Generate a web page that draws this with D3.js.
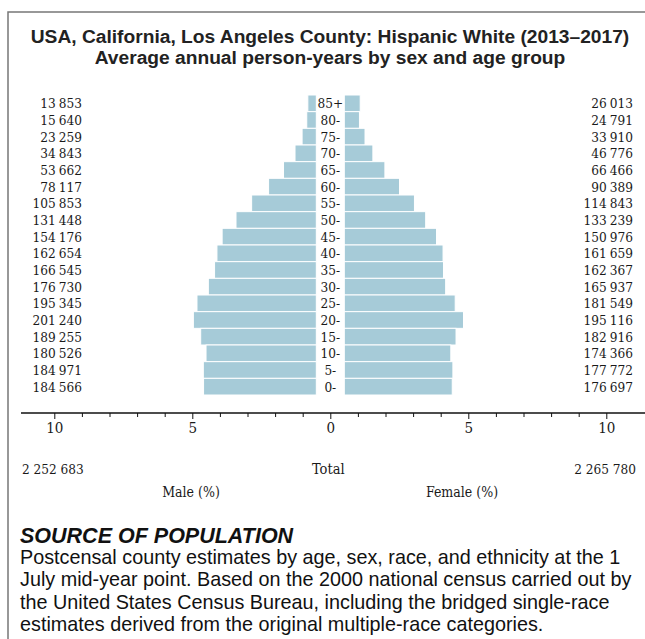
<!DOCTYPE html>
<html><head><meta charset="utf-8">
<script src="https://cdn.jsdelivr.net/npm/d3@7"></script>
<style>
html,body{margin:0;padding:0;background:#fff;}
svg{display:block;}
.serif{font-family:'DejaVu Serif Condensed','DejaVu Serif',serif;font-stretch:condensed;}
</style></head>
<body>
<svg id="chart" width="645" height="639"></svg>
<script>
const ageGroups = ["85+","80-","75-","70-","65-","60-","55-","50-","45-","40-","35-","30-","25-","20-","15-","10-","5-","0-"];
const maleValues = [13853,15640,23259,34843,53662,78117,105853,131448,154176,162654,166545,176730,195345,201240,189255,180526,184971,184566];
const femaleValues = [26013,24791,33910,46776,66466,90389,114843,133239,150976,161659,162367,165937,181549,195116,182916,174366,177772,176697];
const maleTotal = 2252683;
const femaleTotal = 2265780;
const tickValues = d3.range(-10, 11, 1);
const titleLines = ["USA, California, Los Angeles County: Hispanic White (2013\u20132017)","Average annual person-years by sex and age group"];
const sourceTitle = "SOURCE OF POPULATION";
const sourceLines = ["Postcensal county estimates by age, sex, race, and ethnicity at the 1","July mid-year point. Based on the 2000 national census carried out by","the United States Census Bureau, including the bridged single-race","estimates derived from the original multiple-race categories."];

const svg = d3.select("#chart");
const sans = "'Liberation Sans', Arial, sans-serif";
const fmt = v => d3.format(",")(v).replace(/,/g, "\u2005");
const fmtS = v => d3.format(",")(v).replace(/,/g, " ");
const grand = maleTotal + femaleTotal;
const ink = "#1a1a1a";

// frame
svg.append("path").attr("d","M8,639V12H645").attr("fill","none").attr("stroke","#777").attr("stroke-width",1.5);

// title
svg.selectAll("text.title").data(titleLines).join("text")
  .attr("x", 330).attr("y", (d,i)=>43+i*21)
  .attr("text-anchor","middle").attr("font-family",sans).attr("font-weight","bold")
  .attr("font-size",19.2).attr("fill","#222").text(d=>d);

const cx = 330.3, gap = 14;
const x = d3.scaleLinear().domain([-10,10]).range([cx-276, cx+276]);
const w = d3.scaleLinear().domain([0,10]).range([0,276]);
const y = d3.scaleBand().domain(ageGroups).range([95,395]).paddingInner(0);

const pct = v => v / grand * 100;

const g = svg.append("g");
g.selectAll("rect.m").data(maleValues).join("rect")
  .attr("x",(d)=>cx-gap-w(pct(d))).attr("y",(d,i)=>y(ageGroups[i]))
  .attr("width",d=>w(pct(d))).attr("height",y.bandwidth())
  .attr("fill","#a6cbd8").attr("stroke","#fff").attr("stroke-width",1);
g.selectAll("rect.f").data(femaleValues).join("rect")
  .attr("x",cx+gap).attr("y",(d,i)=>y(ageGroups[i]))
  .attr("width",d=>w(pct(d))).attr("height",y.bandwidth())
  .attr("fill","#a6cbd8").attr("stroke","#fff").attr("stroke-width",1);

g.selectAll("text.age").data(ageGroups).join("text").attr("class","serif")
  .attr("x",cx).attr("y",d=>y(d)+y.bandwidth()/2).attr("dy","0.36em")
  .attr("text-anchor","middle").attr("font-size",13.5).attr("fill",ink).text(d=>d);
g.selectAll("text.mv").data(maleValues).join("text").attr("class","serif")
  .attr("x",82).attr("y",(d,i)=>y(ageGroups[i])+y.bandwidth()/2).attr("dy","0.36em")
  .attr("text-anchor","end").attr("font-size",13.5).attr("fill",ink).text(d=>fmt(d));
g.selectAll("text.fv").data(femaleValues).join("text").attr("class","serif")
  .attr("x",633).attr("y",(d,i)=>y(ageGroups[i])+y.bandwidth()/2).attr("dy","0.36em")
  .attr("text-anchor","end").attr("font-size",13.5).attr("fill",ink).text(d=>fmt(d));

// axis
const axis = d3.axisBottom(x).tickValues(tickValues).tickSize(4).tickFormat(d => (d%5===0) ? Math.abs(d) : "");
const ag = svg.append("g").attr("transform","translate(0,413)").call(axis);
ag.select(".domain").remove();
ag.append("line").attr("x1",21).attr("x2",645).attr("stroke","#111").attr("stroke-width",1.5);
ag.selectAll(".tick line").attr("stroke","#111").attr("y2",d=>d%5===0?6:4);
ag.selectAll(".tick text").attr("class","serif").attr("font-family",null).attr("font-size",15).attr("fill",ink).attr("y",9);

// totals
svg.append("text").attr("class","serif").attr("x",22).attr("y",474).attr("font-size",13.5).attr("fill",ink).text(fmtS(maleTotal));
svg.append("text").attr("class","serif").attr("x",636).attr("y",474).attr("text-anchor","end").attr("font-size",13.5).attr("fill",ink).text(fmtS(femaleTotal));
svg.append("text").attr("class","serif").attr("x",cx-2).attr("y",474).attr("text-anchor","middle").attr("font-size",14.5).attr("fill",ink).text("Total");
svg.append("text").attr("class","serif").attr("x",191).attr("y",497).attr("text-anchor","middle").attr("font-size",14).attr("fill",ink).text("Male (%)");
svg.append("text").attr("class","serif").attr("x",462).attr("y",497).attr("text-anchor","middle").attr("font-size",14).attr("fill",ink).text("Female (%)");

// source
svg.append("text").attr("x",20).attr("y",543).attr("font-family",sans).attr("font-weight","bold").attr("font-style","italic")
  .attr("font-size",21.5).attr("fill","#111").text(sourceTitle);
svg.selectAll("text.src").data(sourceLines).join("text")
  .attr("x",20).attr("y",(d,i)=>564+i*22.4).attr("font-family",sans).attr("font-size",19.8).attr("fill","#111").text(d=>d);
</script>
</body></html>
